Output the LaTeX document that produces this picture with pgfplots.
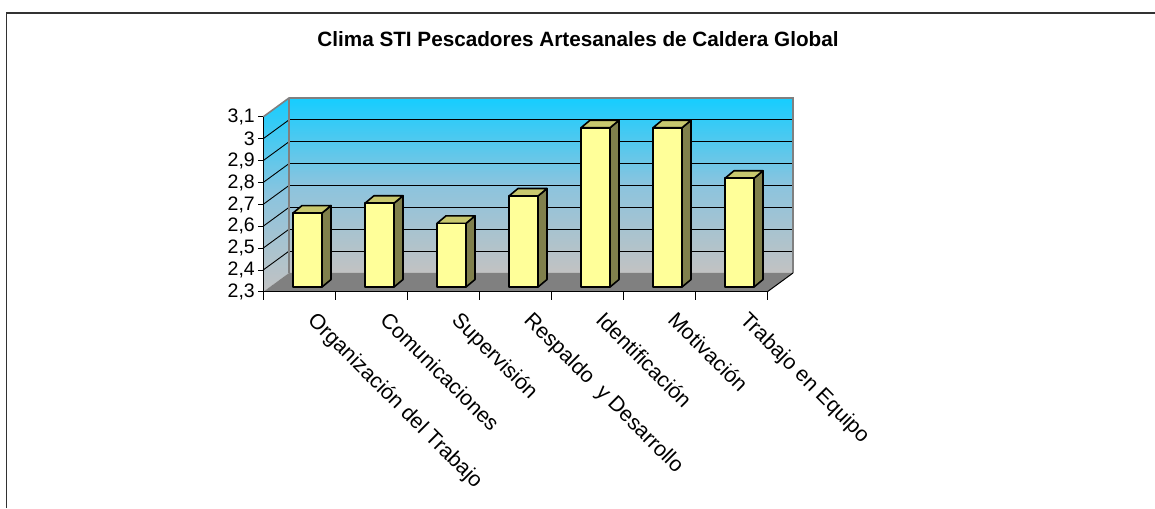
\documentclass[border=0pt]{standalone}
\usepackage{pgfplots}
\pgfplotsset{compat=1.18}
\usepackage{pgfplotstable}
\usepackage{fontspec}
\setmainfont{Liberation Sans}
\definecolor{barfront}{RGB}{255,255,153}
\definecolor{bartop}{RGB}{200,200,110}
\definecolor{barside}{RGB}{128,128,76}
\definecolor{walltop}{RGB}{22,205,255}
\definecolor{wallmid}{RGB}{140,196,222}
\definecolor{wallbot}{RGB}{194,194,194}
\definecolor{floorc}{RGB}{128,128,128}
\definecolor{framec}{RGB}{50,50,50}

\pgfplotstableread{
x v
0.5 2.638
1.5 2.683
2.5 2.591
3.5 2.716
4.5 3.028
5.5 3.028
6.5 2.797
}\climadata

\pgfdeclareplotmark{bar3d}{%
  \pgfmathsetmacro{\hh}{(\vv-2.3)*218.75}%
  \pgfmathsetmacro{\yb}{5-\hh}%
  \pgfmathsetmacro{\ybb}{12.5-\hh}%
  \filldraw[fill=barside, draw=black, line width=1.6pt, line join=round]
     (23pt,5pt) -- (32pt,12.5pt) -- (32pt,\ybb pt) -- (23pt,\yb pt) -- cycle;
  \filldraw[fill=bartop, draw=black, line width=1.6pt, line join=round]
     (-6pt,5pt) -- (23pt,5pt) -- (32pt,12.5pt) -- (3pt,12.5pt) -- cycle;
  \filldraw[fill=barfront, draw=black, line width=1.6pt, line join=round]
     (-6pt,5pt) rectangle (23pt,\yb pt);
}

\begin{document}
\begin{tikzpicture}
\useasboundingbox (0pt,0pt) rectangle (1155pt,508pt);
\draw[framec, line width=1.6pt] (6.5pt,0pt) -- (6.5pt,495pt) -- (1155pt,495pt);
\node[font=\bfseries\fontsize{20.7}{24}\selectfont, anchor=base] at (578pt,461pt)
  {Clima STI Pescadores Artesanales de Caldera Global};
\begin{axis}[
  at={(263pt,216pt)}, anchor=south west,
  x=72pt, y=218.75pt,
  xmin=0, xmax=7, ymin=2.3, ymax=3.1,
  clip=false, axis on top,
  axis x line*=bottom, axis y line*=left,
  axis line style={black, line width=1pt, -},
  tick align=outside,
  major tick length=5pt, minor tick length=8pt,
  ytick={2.3,2.4,2.5,2.6,2.7,2.8,2.9,3.0,3.1},
  yticklabels={{2,3},{2,4},{2,5},{2,6},{2,7},{2,8},{2,9},3,{3,1}},
  y tick style={black, line width=1pt},
  xtick={0.5,1.5,2.5,3.5,4.5,5.5,6.5},
  xticklabels={Organización del Trabajo, Comunicaciones, Supervisión, Respaldo~ y Desarrollo, Identificación, Motivación, Trabajo en Equipo},
  major x tick style={draw=none},
  minor xtick={0,1,2,3,4,5,6,7},
  minor x tick style={black, line width=1pt},
  yticklabel style={font=\fontsize{19.5}{22}\selectfont, anchor=east, inner sep=0pt, xshift=-3pt},
  xticklabel style={font=\fontsize{21.3}{24}\selectfont, xshift=19pt, yshift=-13pt, rotate=-45, anchor=north west, inner sep=0pt},
]
% side wall
\shade[top color=walltop, bottom color=wallbot, middle color=wallmid]
  (axis cs:0,2.3) -- (axis cs:0,3.1) -- ([xshift=26pt,yshift=19pt]axis cs:0,3.1) -- ([xshift=26pt,yshift=19pt]axis cs:0,2.3) -- cycle;
% back wall
\shade[top color=walltop, bottom color=wallbot, middle color=wallmid]
  ([xshift=26pt,yshift=19pt]axis cs:0,2.3) rectangle ([xshift=26pt,yshift=19pt]axis cs:7,3.1);
\pgfplotsinvokeforeach{2.4,2.5,2.6,2.7,2.8,2.9,3.0}{
  \draw[black, line width=0.9pt] ([xshift=26pt,yshift=19pt]axis cs:0,#1) -- ([xshift=26pt,yshift=19pt]axis cs:7,#1);
}
\pgfplotsinvokeforeach{2.4,2.5,2.6,2.7,2.8,2.9,3.0}{
  \draw[black, line width=0.9pt] (axis cs:0,#1) -- ([xshift=26pt,yshift=19pt]axis cs:0,#1);
}
\draw[gray, line width=1.6pt] (axis cs:0,3.1) -- ([xshift=26pt,yshift=19pt]axis cs:0,3.1) -- ([xshift=26pt,yshift=19pt]axis cs:7,3.1) -- ([xshift=26pt,yshift=19pt]axis cs:7,2.3);
\draw[gray, line width=1.2pt] ([xshift=26pt,yshift=19pt]axis cs:0,2.3) -- ([xshift=26pt,yshift=19pt]axis cs:0,3.1);
% floor
\fill[floorc] (axis cs:0,2.3) -- (axis cs:7,2.3) -- ([xshift=26pt,yshift=19pt]axis cs:7,2.3) -- ([xshift=26pt,yshift=19pt]axis cs:0,2.3) -- cycle;
\draw[black, line width=1pt] (axis cs:7,2.3) -- ([xshift=26pt,yshift=19pt]axis cs:7,2.3);
% bars
\addplot[scatter, only marks, mark=bar3d,
  scatter/use mapped color={draw=black, fill=barfront},
  visualization depends on={\thisrow{v} \as \vv}]
  table[x=x, y=v] {\climadata};
\end{axis}
\end{tikzpicture}
\end{document}
